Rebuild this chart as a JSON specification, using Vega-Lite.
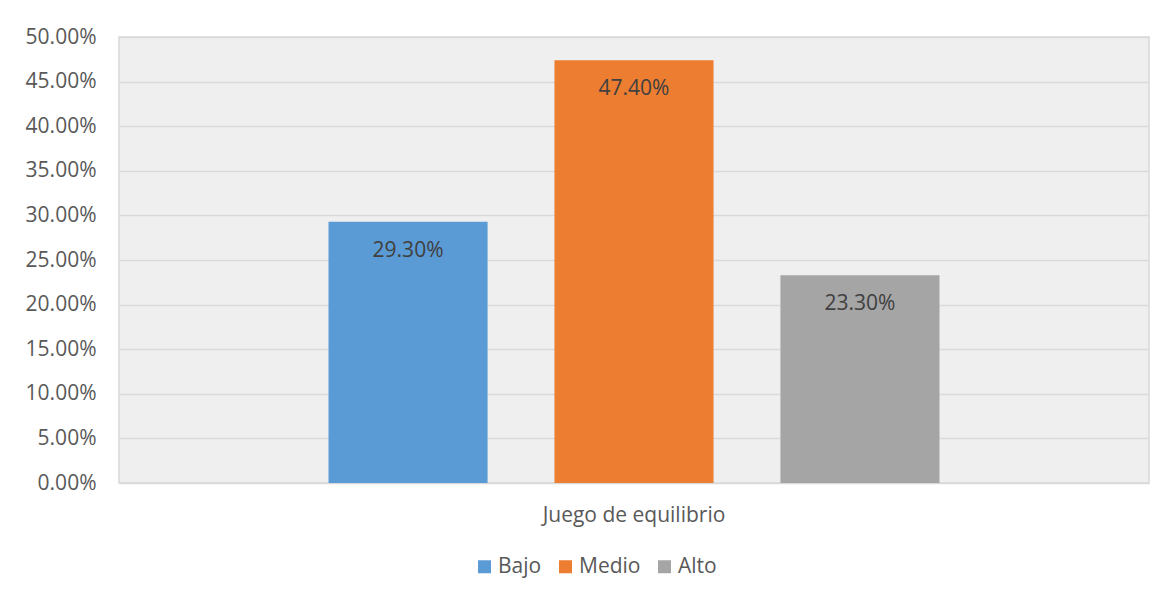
{
  "$schema": "https://vega.github.io/schema/vega-lite/v6.json",
  "width": 1030,
  "height": 446,
  "autosize": {"type": "none"},
  "padding": {"left": 119, "top": 37, "right": 19, "bottom": 118},
  "background": "white",
  "config": {
    "font": "Open Sans",
    "view": {"stroke": "#d9d9d9", "strokeWidth": 1.5, "fill": "#efefef"}
  },
  "data": {
    "values": [
      {"grupo": "Juego de equilibrio", "nivel": "Bajo", "valor": 0.293},
      {"grupo": "Juego de equilibrio", "nivel": "Medio", "valor": 0.474},
      {"grupo": "Juego de equilibrio", "nivel": "Alto", "valor": 0.233}
    ]
  },
  "encoding": {
    "x": {
      "field": "grupo",
      "type": "nominal",
      "scale": {"paddingInner": 0, "paddingOuter": 0.3429},
      "axis": {
        "title": null,
        "labelAngle": 0,
        "ticks": false,
        "domain": false,
        "labelFontSize": 21,
        "labelColor": "#595959",
        "labelPadding": 21,
        "labelBaseline": "top",
        "labelLimit": 0
      }
    },
    "xOffset": {
      "field": "nivel",
      "type": "nominal",
      "sort": ["Bajo", "Medio", "Alto"],
      "scale": {"paddingInner": 0.296, "paddingOuter": 0}
    },
    "y": {
      "field": "valor",
      "type": "quantitative",
      "scale": {"domain": [0, 0.5], "nice": false},
      "axis": {
        "title": null,
        "format": ".2%",
        "values": [0, 0.05, 0.1, 0.15, 0.2, 0.25, 0.3, 0.35, 0.4, 0.45, 0.5],
        "domain": false,
        "ticks": false,
        "gridColor": "#d9d9d9",
        "gridWidth": 1.5,
        "labelFontSize": 21,
        "labelColor": "#595959",
        "labelPadding": 23
      }
    }
  },
  "layer": [
    {
      "mark": {"type": "bar"},
      "encoding": {
        "color": {
          "field": "nivel",
          "type": "nominal",
          "sort": ["Bajo", "Medio", "Alto"],
          "scale": {"domain": ["Bajo", "Medio", "Alto"], "range": ["#5b9bd5", "#ed7d31", "#a5a5a5"]},
          "legend": {
            "title": null,
            "orient": "none",
            "direction": "horizontal",
            "legendX": 355,
            "legendY": 519,
            "symbolType": "square",
            "symbolSize": 169,
            "symbolStrokeWidth": 0,
            "symbolOpacity": 1,
            "labelFontSize": 21,
            "labelColor": "#595959",
            "labelOffset": 3,
            "columnPadding": 13
          }
        }
      }
    },
    {
      "mark": {"type": "text", "baseline": "middle", "dy": 29, "fontSize": 21, "color": "#404040"},
      "encoding": {
        "text": {"field": "valor", "type": "quantitative", "format": ".2%"}
      }
    }
  ]
}
